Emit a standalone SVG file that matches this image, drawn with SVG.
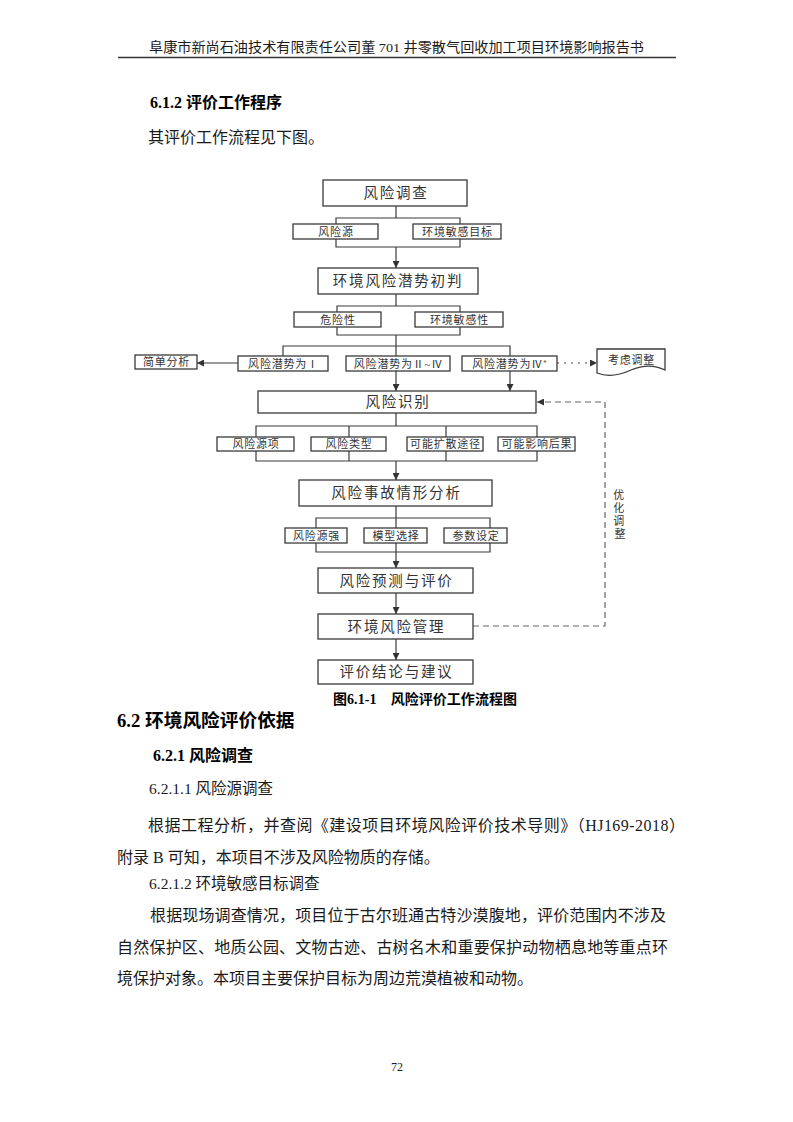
<svg xmlns="http://www.w3.org/2000/svg" width="793" height="1122" viewBox="0 0 793 1122">
<defs>
<style>
.box{fill:#fff;stroke:#3a3a3a;stroke-width:1.3}
.lb{font-family:"Liberation Serif","Noto Sans CJK SC",serif;fill:#333;text-anchor:middle;dominant-baseline:central}
.big{font-size:14.5px;letter-spacing:1.8px}
.sm{font-size:11px;letter-spacing:0.8px}
.ln{fill:none;stroke:#3a3a3a;stroke-width:1.2}
.dash{fill:none;stroke:#666;stroke-width:1.2;stroke-dasharray:6 4}
.dot{fill:none;stroke:#444;stroke-width:1.2;stroke-dasharray:2 5}
.tx{font-family:"Liberation Serif","Noto Sans CJK SC",serif;font-size:16px;fill:#1a1a1a}
.b{font-weight:bold;fill:#000}
</style>
<marker id="arr" viewBox="0 0 10 10" refX="10" refY="5" markerWidth="8" markerHeight="7" markerUnits="userSpaceOnUse" orient="auto">
<path d="M0,0 L10,5 L0,10 z" fill="#333"/>
</marker>
</defs>
<rect x="0" y="0" width="793" height="1122" fill="#fff"/>

<g id="page-header">
<text class="tx" x="149" y="52" font-size="13.5" style="font-size:13.5px" textLength="495" lengthAdjust="spacingAndGlyphs">阜康市新尚石油技术有限责任公司董 701 井零散气回收加工项目环境影响报告书</text>
<line x1="118" y1="57.5" x2="676" y2="57.5" stroke="#333" stroke-width="1.3"/>
</g>

<g id="intro-text">
<text class="tx b" x="150" y="108">6.1.2 评价工作程序</text>
<text class="tx" x="148" y="143">其评价工作流程见下图。</text>
</g>

<g id="connectors">
<path class="ln" d="M396,206 V218"/>
<path class="ln" d="M336,218 H460 V247 H336 Z"/>
<path class="ln" d="M396,247 V268" marker-end="url(#arr)"/>
<path class="ln" d="M396,294 V306"/>
<path class="ln" d="M337,306 H460 V335 H337 Z"/>
<path class="ln" d="M396,335 V356"/>
<path class="ln" d="M283,356 V346 H510 V356"/>
<path class="ln" d="M238,363 H197" marker-end="url(#arr)"/>
<path class="dot" d="M557,363 H597" marker-end="url(#arr)"/>
<path class="ln" d="M396,371 V391" marker-end="url(#arr)"/>
<path class="ln" d="M510,371 V391" marker-end="url(#arr)"/>
<path class="ln" d="M396,413 V426"/>
<path class="ln" d="M256,426 H537 V461 H256 Z"/>
<path class="ln" d="M349,426 V461 M446,426 V461"/>
<path class="ln" d="M396,461 V480" marker-end="url(#arr)"/>
<path class="ln" d="M396,506 V568" marker-end="url(#arr)"/>
<path class="ln" d="M316,518 H490 V552 H316 Z"/>
<path class="ln" d="M396,593 V614" marker-end="url(#arr)"/>
<path class="ln" d="M396,639 V660" marker-end="url(#arr)"/>
<path class="dash" d="M473,626 H605 V402 H537" marker-end="url(#arr)"/>
<text class="lb sm" style="letter-spacing:0">
<tspan x="620" y="495">优</tspan>
<tspan x="620" y="508">化</tspan>
<tspan x="620" y="521">调</tspan>
<tspan x="620" y="534">整</tspan>
</text>
</g>

<g id="n-risk-survey"><rect class="box" x="323" y="180" width="144" height="26"/><text class="lb big" x="396" y="193">风险调查</text></g>
<g id="n-risk-source"><rect class="box" x="293" y="224" width="85" height="15"/><text class="lb sm" x="336" y="231.5">风险源</text></g>
<g id="n-sensitive-target"><rect class="box" x="413" y="224" width="88" height="15"/><text class="lb sm" x="457.5" y="231.5">环境敏感目标</text></g>
<g id="n-potential-judge"><rect class="box" x="318" y="268" width="160" height="26"/><text class="lb big" x="398" y="281">环境风险潜势初判</text></g>
<g id="n-hazard"><rect class="box" x="294" y="312" width="87" height="15"/><text class="lb sm" x="338" y="319.5">危险性</text></g>
<g id="n-sensitivity"><rect class="box" x="415" y="312" width="88" height="15"/><text class="lb sm" x="459.5" y="319.5">环境敏感性</text></g>
<g id="n-simple"><rect class="box" x="135" y="355" width="62" height="14"/><text class="lb sm" x="166.5" y="362">简单分析</text></g>
<g id="n-level1"><rect class="box" x="238" y="356" width="90" height="15"/><text class="lb sm" x="283.5" y="363.5">风险潜势为Ⅰ</text></g>
<g id="n-level2-4"><rect class="box" x="346" y="356" width="104" height="15"/><text class="lb sm" x="398.5" y="363.5">风险潜势为Ⅱ~Ⅳ</text></g>
<g id="n-level4plus"><rect class="box" x="462" y="356" width="95" height="15"/><text class="lb sm" x="510" y="363.5">风险潜势为Ⅳ⁺</text></g>
<g id="n-consider"><path class="box" d="M597,349 H665 V370 C655,365 645,364 631,370 C618,376 607,377 597,373 Z"/><text class="lb sm" x="631.5" y="360">考虑调整</text></g>
<g id="n-identify"><rect class="box" x="258" y="391" width="278" height="22"/><text class="lb big" x="398" y="402">风险识别</text></g>
<g id="n-source-item"><rect class="box" x="217" y="437" width="77" height="14"/><text class="lb sm" x="256" y="444">风险源项</text></g>
<g id="n-risk-type"><rect class="box" x="311" y="437" width="75" height="14"/><text class="lb sm" x="349" y="444">风险类型</text></g>
<g id="n-diffusion"><rect class="box" x="407" y="437" width="76" height="14"/><text class="lb sm" x="445.5" y="444">可能扩散途径</text></g>
<g id="n-consequence"><rect class="box" x="498" y="437" width="77" height="14"/><text class="lb sm" x="537" y="444">可能影响后果</text></g>
<g id="n-scenario"><rect class="box" x="299" y="480" width="193" height="26"/><text class="lb big" x="396.5" y="493">风险事故情形分析</text></g>
<g id="n-source-strength"><rect class="box" x="285" y="528" width="62" height="15"/><text class="lb sm" x="316.5" y="535.5">风险源强</text></g>
<g id="n-model"><rect class="box" x="364" y="528" width="63" height="15"/><text class="lb sm" x="396" y="535.5">模型选择</text></g>
<g id="n-params"><rect class="box" x="444" y="528" width="63" height="15"/><text class="lb sm" x="476" y="535.5">参数设定</text></g>
<g id="n-predict"><rect class="box" x="318" y="568" width="155" height="25"/><text class="lb big" x="396.5" y="580.5">风险预测与评价</text></g>
<g id="n-manage"><rect class="box" x="318" y="614" width="155" height="25"/><text class="lb big" x="396.5" y="626.5">环境风险管理</text></g>
<g id="n-conclusion"><rect class="box" x="318" y="660" width="155" height="24"/><text class="lb big" x="396.5" y="672">评价结论与建议</text></g>

<g id="caption">
<text class="tx b" x="333" y="704" style="font-size:14px" textLength="184" xml:space="preserve">图6.1-1    风险评价工作流程图</text>
</g>

<g id="body-text">
<text class="tx b" x="117" y="727" style="font-size:18.7px">6.2 环境风险评价依据</text>
<text class="tx b" x="153" y="761">6.2.1 风险调查</text>
<text class="tx" x="149" y="794" style="font-size:15.5px">6.2.1.1 风险源调查</text>
<text class="tx" x="148" y="831" textLength="537">根据工程分析，并查阅《建设项目环境风险评价技术导则》（HJ169-2018）</text>
<text class="tx" x="117" y="863">附录 B 可知，本项目不涉及风险物质的存储。</text>
<text class="tx" x="149" y="889" style="font-size:15.5px">6.2.1.2 环境敏感目标调查</text>
<text class="tx" x="150" y="921" textLength="516">根据现场调查情况，项目位于古尔班通古特沙漠腹地，评价范围内不涉及</text>
<text class="tx" x="117" y="953" textLength="551">自然保护区、地质公园、文物古迹、古树名木和重要保护动物栖息地等重点环</text>
<text class="tx" x="117" y="984">境保护对象。本项目主要保护目标为周边荒漠植被和动物。</text>
</g>

<g id="page-number">
<text class="tx" x="397" y="1071" style="font-size:12px" text-anchor="middle">72</text>
</g>
</svg>
